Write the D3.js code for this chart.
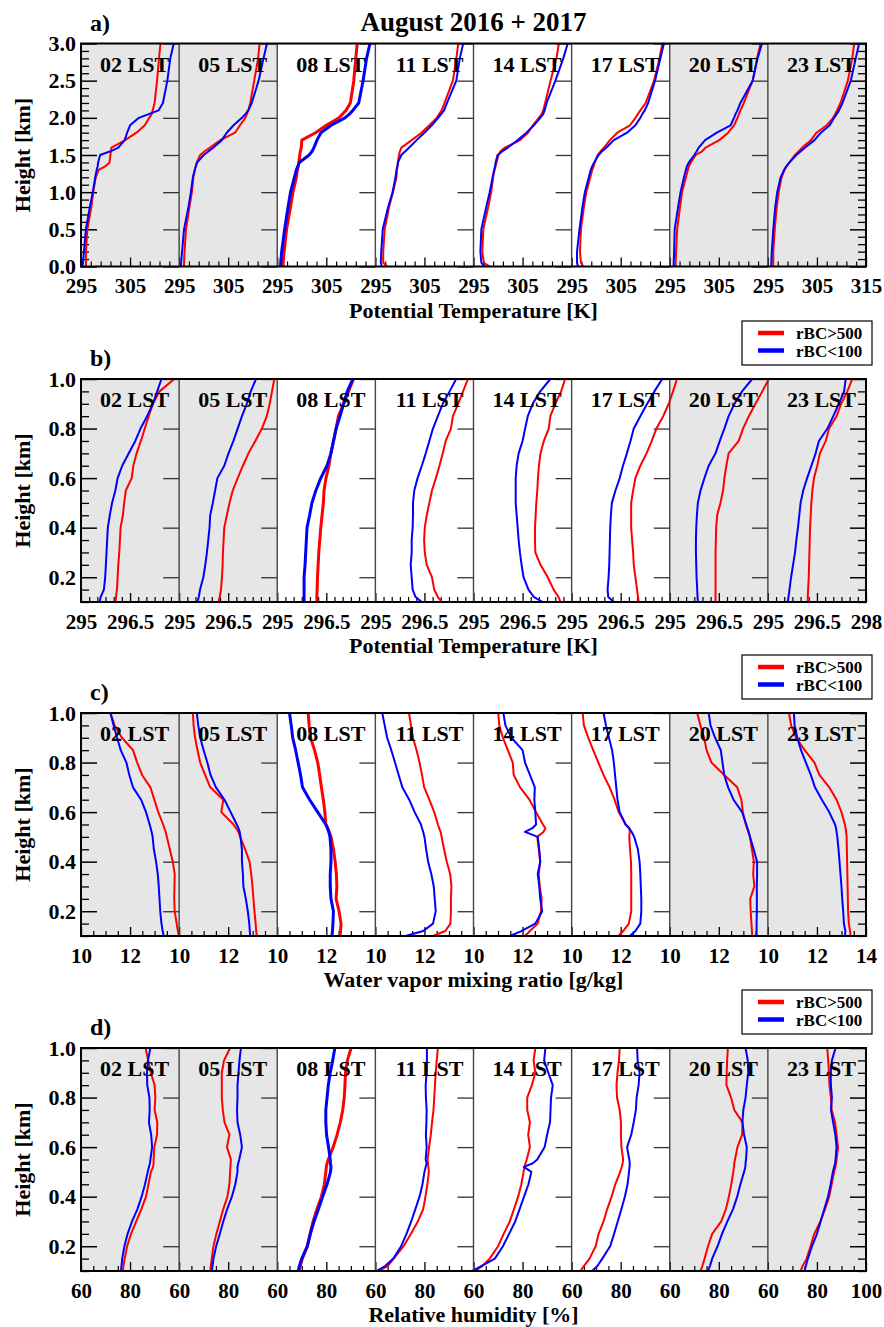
<!DOCTYPE html>
<html><head><meta charset="utf-8">
<script src="https://cdn.jsdelivr.net/npm/d3@7"></script>
<style>body{margin:0;background:#fff}svg{display:block}</style>
</head><body>
<svg id="chart" width="884" height="1327"></svg>
<script>
// ---------------- DATA ----------------
const panelLabels = ["02 LST","05 LST","08 LST","11 LST","14 LST","17 LST","20 LST","23 LST"];
const nightPanels = [0, 1, 6, 7];
const seriesNames = ["rBC>500", "rBC<100"];

// heights [km]
const heightsA = [0, 0.05, 0.2, 0.5, 0.8, 1.0, 1.2, 1.3, 1.35, 1.4, 1.5, 1.55, 1.6, 1.7, 1.8, 1.9, 2.0, 2.05, 2.1, 2.2, 2.5, 2.8, 3.0];
const heightsB = [0.1, 0.12, 0.15, 0.2, 0.25, 0.3, 0.35, 0.4, 0.45, 0.5, 0.55, 0.6, 0.65, 0.7, 0.75, 0.8, 0.85, 0.9, 0.95, 1.0];
const heightsCD = [0.1, 0.12, 0.15, 0.2, 0.25, 0.3, 0.35, 0.4, 0.45, 0.5, 0.52, 0.535, 0.55, 0.6, 0.65, 0.7, 0.75, 0.8, 0.85, 0.9, 0.95, 1.0];

// a) potential temperature 0-3 km [K]
const thetaA_high = [
 [296.0,296.0,296.0,296.3,297.1,297.5,298.0,298.6,300.0,300.8,301.0,301.1,301.2,304.0,306.3,308.0,308.9,309.4,309.6,310.0,310.5,310.9,311.2],
 [296.0,296.0,296.1,296.4,297.1,297.6,297.9,298.2,298.4,298.6,299.3,300.2,301.3,303.4,306.4,307.4,308.5,308.8,309.1,309.5,310.3,311.1,311.4],
 [296.2,296.2,296.4,296.9,297.7,298.2,298.9,299.1,299.3,299.4,299.6,299.7,299.9,300.0,302.8,305.0,307.6,308.3,309.0,309.9,310.6,311.0,311.3],
 [297.4,296.6,296.6,296.9,297.8,298.6,299.3,299.4,299.5,299.6,299.8,300.0,300.3,302.4,304.4,306.0,307.5,308.0,308.5,309.1,310.8,311.5,311.9],
 [298.3,297.1,296.8,297.0,298.0,298.6,299.0,299.3,299.5,299.7,300.1,300.5,301.4,304.5,306.1,307.1,308.3,308.9,309.2,309.6,310.7,311.9,312.4],
 [297.4,296.9,296.7,296.9,297.5,298.0,298.8,299.2,299.5,299.7,300.3,300.9,301.6,302.8,304.3,306.9,308.0,308.5,309.0,310.1,311.8,312.9,313.5],
 [296.2,296.2,296.3,296.5,297.1,297.5,298.3,298.7,298.9,299.3,300.3,301.6,302.3,305.1,306.9,308.1,308.8,309.1,309.4,310.1,311.9,312.8,313.5],
 [296.1,296.1,296.1,296.4,296.8,297.2,297.8,298.4,298.8,299.4,300.5,301.3,302.0,303.8,304.9,307.0,308.3,308.7,309.1,309.8,311.3,312.2,312.6]
];
const thetaA_low = [
 [295.3,295.4,295.6,296.0,296.8,297.4,297.9,298.2,298.4,298.5,298.9,301.0,302.6,303.9,304.4,305.0,306.8,308.8,310.8,311.7,312.6,313.2,313.9],
 [295.4,295.4,295.6,296.0,296.9,297.4,297.8,298.2,298.4,298.7,300.0,301.0,302.0,303.7,304.7,306.1,307.8,308.5,309.1,309.8,311.2,312.2,312.9],
 [295.7,295.7,295.9,296.5,297.2,297.7,298.5,298.9,299.2,299.5,301.5,302.1,302.5,303.1,303.9,306.0,308.8,309.7,310.4,311.6,312.5,313.2,313.9],
 [296.3,296.1,296.2,296.5,297.6,298.5,299.1,299.3,299.5,299.6,300.3,301.1,301.9,303.4,305.0,306.5,307.8,308.4,309.0,309.6,311.5,312.2,312.9],
 [297.3,296.6,296.4,296.6,297.6,298.3,298.9,299.2,299.4,299.5,299.9,300.9,302.0,304.0,305.8,307.3,308.6,309.2,309.5,309.9,311.7,313.3,314.2],
 [296.3,296.1,296.1,296.6,297.2,297.7,298.5,298.9,299.2,299.6,300.5,301.2,302.1,303.6,306.3,308.0,309.0,309.4,309.9,310.6,312.0,313.1,313.8],
 [295.8,295.8,295.9,296.0,296.7,297.2,297.9,298.3,298.5,298.9,300.0,300.5,300.9,302.2,304.6,307.4,308.1,308.4,308.8,309.4,311.9,312.9,313.8],
 [295.7,295.7,295.8,296.1,296.5,296.9,297.6,298.3,298.8,299.4,300.8,301.7,302.6,304.5,305.8,307.6,308.5,309.0,309.5,310.2,311.9,312.9,313.6]
];

// b) potential temperature 0.1-1 km [K]
const thetaB_high = [
 [296.05,296.07,296.10,296.12,296.14,296.17,296.19,296.21,296.28,296.32,296.37,296.55,296.60,296.70,296.83,296.95,297.07,297.20,297.40,297.85],
 [296.20,296.24,296.28,296.31,296.33,296.34,296.36,296.38,296.46,296.54,296.64,296.79,296.95,297.12,297.33,297.53,297.68,297.77,297.84,297.91],
 [296.21,296.21,296.22,296.23,296.25,296.27,296.30,296.33,296.37,296.41,296.43,296.49,296.58,296.64,296.72,296.80,296.87,297.03,297.18,297.33],
 [297.03,296.91,296.80,296.73,296.57,296.51,296.49,296.51,296.57,296.65,296.73,296.85,296.96,297.06,297.15,297.31,297.37,297.53,297.68,297.83],
 [297.66,297.60,297.45,297.27,297.05,296.89,296.88,296.88,296.90,296.92,296.95,296.97,297.00,297.05,297.15,297.30,297.35,297.50,297.68,297.80],
 [297.05,297.03,297.00,296.95,296.90,296.88,296.85,296.82,296.82,296.82,296.88,296.95,297.10,297.29,297.45,297.59,297.80,297.97,298.10,298.22],
 [296.40,296.40,296.40,296.40,296.40,296.40,296.41,296.42,296.45,296.55,296.63,296.67,296.73,296.80,297.11,297.24,297.42,297.62,297.83,298.03],
 [296.22,296.22,296.23,296.25,296.26,296.27,296.28,296.29,296.31,296.33,296.36,296.41,296.51,296.59,296.77,296.87,297.10,297.24,297.43,297.58]
];
const thetaB_low = [
 [295.57,295.60,295.70,295.74,295.76,295.78,295.80,295.82,295.88,295.95,296.05,296.12,296.26,296.46,296.66,296.82,297.02,297.20,297.33,297.46],
 [295.56,295.60,295.64,295.74,295.80,295.85,295.89,295.93,295.95,296.03,296.10,296.17,296.38,296.51,296.66,296.79,296.92,297.07,297.19,297.35],
 [295.82,295.82,295.82,295.82,295.85,295.87,295.89,295.91,295.99,296.06,296.18,296.33,296.52,296.64,296.72,296.80,296.92,297.03,297.14,297.31],
 [296.42,296.23,296.14,296.11,296.08,296.11,296.11,296.14,296.15,296.15,296.19,296.29,296.42,296.54,296.65,296.76,296.91,297.06,297.27,297.47],
 [297.12,296.85,296.68,296.53,296.47,296.42,296.38,296.35,296.32,296.29,296.29,296.29,296.32,296.38,296.50,296.58,296.66,296.81,297.04,297.35],
 [296.29,296.12,296.10,296.13,296.15,296.16,296.17,296.18,296.20,296.23,296.34,296.47,296.57,296.69,296.80,296.90,297.10,297.31,297.53,297.77],
 [295.86,295.85,295.84,295.82,295.81,295.80,295.80,295.81,295.83,295.86,295.94,296.06,296.19,296.40,296.53,296.67,296.80,296.98,297.21,297.52],
 [295.61,295.63,295.66,295.71,295.77,295.83,295.87,295.92,295.96,296.00,296.08,296.20,296.33,296.46,296.56,296.82,297.00,297.17,297.33,297.38]
];

// c) water vapor mixing ratio [g/kg]
const mixC_high = [
 [13.99,13.95,13.9,13.82,13.8,13.81,13.82,13.74,13.62,13.5,13.45,13.4,13.35,13.15,12.99,12.83,12.49,12.29,12.12,11.67,11.37,11.2],
 [13.17,13.14,13.12,13.07,13.03,12.99,12.94,12.87,12.69,12.49,12.42,12.32,12.22,11.72,11.8,11.27,11.06,10.86,10.75,10.65,10.59,10.56],
 [12.56,12.58,12.6,12.52,12.4,12.43,12.41,12.36,12.29,12.19,12.12,12.05,11.98,11.94,11.88,11.8,11.73,11.65,11.52,11.36,11.3,11.26],
 [12.35,12.85,13.06,13.08,13.08,13.1,13.05,12.91,12.8,12.7,12.66,12.6,12.55,12.4,12.2,11.99,11.9,11.8,11.68,11.53,11.45,11.37],
 [12.1,12.3,12.62,12.75,12.78,12.7,12.66,12.72,12.66,12.6,12.85,12.93,12.83,12.55,12.28,11.9,11.64,11.6,11.4,11.2,11.05,11.01],
 [11.91,12.1,12.33,12.43,12.43,12.43,12.43,12.42,12.38,12.35,12.37,12.35,12.2,11.92,11.75,11.55,11.3,11.09,10.88,10.68,10.5,10.45],
 [13.36,13.35,13.33,13.3,13.28,13.45,13.4,13.43,13.35,13.27,13.2,13.15,13.1,12.98,12.92,12.75,12.22,11.7,11.5,11.4,11.25,11.12],
 [13.37,13.35,13.3,13.27,13.26,13.25,13.24,13.23,13.22,13.21,13.19,13.17,13.14,13.0,12.8,12.5,12.1,11.9,11.5,11.15,10.95,10.86]
];
const mixC_low = [
 [13.37,13.33,13.28,13.23,13.2,13.17,13.13,13.06,12.97,12.92,12.88,12.84,12.8,12.65,12.45,12.12,11.97,11.85,11.62,11.47,11.33,11.2],
 [12.9,12.88,12.86,12.8,12.72,12.62,12.6,12.56,12.56,12.5,12.47,12.42,12.35,12.1,11.85,11.5,11.28,11.15,11.0,10.86,10.78,10.72],
 [12.23,12.25,12.27,12.29,12.19,12.16,12.16,12.19,12.19,12.15,12.1,12.05,11.98,11.65,11.32,11.03,10.95,10.85,10.75,10.63,10.57,10.5],
 [11.23,11.95,12.35,12.46,12.42,12.38,12.28,12.15,12.07,12.0,11.95,11.9,11.86,11.6,11.38,11.1,10.95,10.8,10.65,10.48,10.38,10.28],
 [11.49,11.95,12.52,12.8,12.72,12.68,12.62,12.72,12.68,12.62,12.1,12.4,12.55,12.52,12.48,12.5,12.3,12.1,12.0,11.55,11.3,11.22],
 [12.37,12.6,12.8,12.84,12.84,12.82,12.8,12.77,12.7,12.55,12.45,12.35,12.2,11.96,11.87,11.82,11.77,11.72,11.65,11.52,11.4,11.3],
 [13.54,13.54,13.54,13.55,13.55,13.55,13.56,13.56,13.42,13.27,13.22,13.17,13.12,12.95,12.6,12.38,12.22,12.15,12.08,11.85,11.66,11.59],
 [13.14,13.16,13.1,13.07,13.03,13.0,12.96,12.92,12.88,12.83,12.8,12.78,12.74,12.5,12.2,11.92,11.75,11.55,11.35,11.2,11.09,11.06]
];

// d) relative humidity [%]
const rhD_high = [
 [77.1,77.3,77.8,78.8,80.4,82.5,84.6,86.5,87.5,88.5,89.4,89.6,89.6,89.9,91.0,91.1,90.0,90.3,90.0,88.5,87.4,86.3],
 [72.7,72.9,73.3,74.0,75.2,76.6,78.0,79.7,80.5,80.8,80.9,81.0,81.1,79.5,80.5,78.5,77.8,77.4,77.4,77.4,78.3,80.8],
 [68.9,69.4,70.2,72.2,73.4,74.6,76.2,78.0,79.2,79.8,80.0,80.3,80.8,82.8,84.4,85.7,86.7,87.3,87.6,87.8,88.6,90.1],
 [61.4,65.0,67.5,71.5,74.5,77.3,79.5,80.4,81.2,81.8,81.6,81.4,81.3,81.9,82.6,83.1,83.7,84.0,84.3,84.6,85.0,85.5],
 [60.5,63.6,66.6,70.0,72.3,74.8,76.5,78.2,79.5,80.4,80.8,81.2,81.7,83.0,82.3,83.0,81.9,81.9,83.8,85.2,84.5,85.2],
 [63.5,65.0,67.3,69.8,71.0,73.0,74.5,76.3,77.8,79.8,80.4,80.8,81.0,80.3,80.1,80.1,79.6,78.5,78.3,78.7,79.3,79.6],
 [72.5,73.3,74.2,75.6,77.3,81.0,82.9,84.1,85.1,85.9,86.2,86.3,86.6,87.6,89.5,89.7,86.3,85.0,83.1,83.2,83.4,83.7],
 [73.3,74.2,75.8,77.4,78.9,81.4,83.3,85.0,86.0,87.0,87.5,87.8,88.0,88.6,88.0,87.4,86.0,85.7,85.1,84.9,84.6,84.2]
];
const rhD_low = [
 [76.3,76.5,76.8,77.7,79.0,80.8,83.0,84.7,86.1,87.2,87.7,88.1,88.3,89.0,88.6,87.7,88.0,87.9,87.0,86.9,87.3,88.3],
 [73.3,73.6,74.0,75.1,76.6,78.0,79.6,81.5,82.9,83.8,83.8,84.1,84.5,85.6,84.9,83.8,83.6,83.8,83.8,84.2,84.6,85.2],
 [68.5,69.0,70.0,72.3,73.5,75.0,76.8,78.5,80.3,81.7,81.9,81.7,81.6,80.9,80.1,79.8,79.8,80.3,80.8,81.6,82.6,83.5],
 [60.4,64.0,67.3,70.5,72.7,74.6,76.3,78.0,79.2,80.0,80.5,80.9,80.5,80.9,80.6,80.8,80.9,80.6,80.5,80.9,81.0,81.0],
 [59.5,63.2,68.7,72.0,74.5,77.0,78.8,80.6,82.4,83.6,80.5,84.2,86.0,89.0,90.0,91.2,91.4,91.6,92.3,90.5,88.8,89.3],
 [68.3,70.5,72.5,75.7,77.3,78.8,80.3,81.7,82.8,83.4,83.6,83.7,83.5,82.6,84.3,85.3,86.2,86.5,87.3,87.7,86.9,86.7],
 [75.5,76.4,77.3,79.5,81.3,83.5,85.8,87.5,88.8,90.3,90.8,90.9,91.1,91.4,90.3,89.6,90.0,90.9,91.4,92.0,91.8,90.9],
 [74.9,75.5,76.3,78.0,80.0,81.5,83.0,84.5,85.6,86.5,87.0,87.4,87.6,88.0,87.5,86.6,85.7,86.1,85.7,85.6,86.1,87.6]
];

// axis tick values
const xTicksA = [295, 305, 315], xTicksB = [295, 296.5, 298], xTicksC = [10, 12, 14], xTicksD = [60, 80, 100];
const yTicksA = [0, 0.5, 1.0, 1.5, 2.0, 2.5, 3.0];
const yTicksBCD = [0.2, 0.4, 0.6, 0.8, 1.0];

// ---------------- LAYOUT ----------------
const rows = [
  {letter:"a)", title:"Potential Temperature [K]", heights:heightsA, high:thetaA_high, low:thetaA_low,
   xTicks:xTicksA, xMinorStep:2, yDomain:[0,3], yTicks:yTicksA, yMinorStep:0.1, yFmt:d3.format(".1f"), legend:false},
  {letter:"b)", title:"Potential Temperature [K]", heights:heightsB, high:thetaB_high, low:thetaB_low,
   xTicks:xTicksB, xMinorStep:0.25, yDomain:[0.1,1], yTicks:yTicksBCD, yMinorStep:0.05, yFmt:d3.format(".1f"), legend:true},
  {letter:"c)", title:"Water vapor mixing ratio [g/kg]", heights:heightsCD, high:mixC_high, low:mixC_low,
   xTicks:xTicksC, xMinorStep:0.5, yDomain:[0.1,1], yTicks:yTicksBCD, yMinorStep:0.05, yFmt:d3.format(".1f"), legend:true},
  {letter:"d)", title:"Relative humidity [%]", heights:heightsCD, high:rhD_high, low:rhD_low,
   xTicks:xTicksD, xMinorStep:5, yDomain:[0.1,1], yTicks:yTicksBCD, yMinorStep:0.05, yFmt:d3.format(".1f"), legend:true}
];

const FONT = "'Liberation Serif','Times New Roman',Times,serif";
const L = 81, R = 866, PW = (R - L) / 8;
const rowTop = [43.5, 379, 713, 1048], RH = 223;
const RED = "#ff0000", BLUE = "#0000ff", GRAY = "#e6e6e6";

const svg = d3.select("#chart");
svg.append("rect").attr("width", 884).attr("height", 1327).attr("fill", "#fff");

svg.append("text").attr("x", (L + R) / 2).attr("y", 31).attr("text-anchor", "middle")
  .attr("font-family", FONT).attr("font-weight", "bold").attr("font-size", 27)
  .text("August 2016 + 2017");

function rangeStep(a, b, s) { const out = []; for (let v = a; v <= b + 1e-9; v += s) out.push(+v.toFixed(4)); return out; }

rows.forEach((row, ri) => {
  const top = rowTop[ri], bot = top + RH;
  const g = svg.append("g");
  const y = d3.scaleLinear().domain(row.yDomain).range([bot, top]);
  const xd = [row.xTicks[0], row.xTicks[2]];
  const xScales = panelLabels.map((_, pi) => d3.scaleLinear().domain(xd).range([L + pi * PW, L + (pi + 1) * PW]));

  // panel backgrounds
  panelLabels.forEach((_, pi) => {
    g.append("rect").attr("x", L + pi * PW).attr("y", top).attr("width", PW).attr("height", RH)
      .attr("fill", nightPanels.includes(pi) ? GRAY : "#fff");
  });

  const yMinor = rangeStep(row.yDomain[0], row.yDomain[1], row.yMinorStep).filter(v => !row.yTicks.some(t => Math.abs(t - v) < 1e-6));

  // x axes (bottom) per panel
  panelLabels.forEach((_, pi) => {
    const x = xScales[pi];
    const majors = pi === 7 ? row.xTicks : row.xTicks.slice(0, 2);
    const minors = rangeStep(xd[0], xd[1], row.xMinorStep).filter(v => !row.xTicks.some(t => Math.abs(t - v) < 1e-6));
    const ax = g.append("g").attr("transform", `translate(0,${bot})`)
      .call(d3.axisBottom(x).tickValues(majors).tickSize(-9).tickPadding(12).tickFormat(d => String(d)));
    ax.select(".domain").remove();
    ax.selectAll("line").attr("stroke", "#000").attr("stroke-width", 1.3);
    ax.selectAll("text").attr("font-family", FONT).attr("font-weight", "bold").attr("font-size", 21).attr("fill", "#000");
    const axm = g.append("g").attr("transform", `translate(0,${bot})`)
      .call(d3.axisBottom(x).tickValues(minors).tickSize(-5).tickFormat(""));
    axm.select(".domain").remove();
    axm.selectAll("line").attr("stroke", "#000").attr("stroke-width", 1.2);
  });

  // divider ticks (major only, pointing into the panel on the left)
  for (let k = 1; k < 8; k++) {
    const ax = g.append("g").attr("transform", `translate(${L + k * PW},0)`)
      .call(d3.axisLeft(y).tickValues(row.yTicks).tickSize(16).tickFormat(""));
    ax.select(".domain").remove();
    ax.selectAll("line").attr("stroke", "#333").attr("stroke-width", 1.3);
  }
  // right edge ticks
  {
    const ax = g.append("g").attr("transform", `translate(${R},0)`)
      .call(d3.axisLeft(y).tickValues(row.yTicks).tickSize(16).tickFormat(""));
    ax.select(".domain").remove();
    ax.selectAll("line").attr("stroke", "#000").attr("stroke-width", 1.5);
    const axm = g.append("g").attr("transform", `translate(${R},0)`)
      .call(d3.axisLeft(y).tickValues(yMinor).tickSize(8).tickFormat(""));
    axm.select(".domain").remove();
    axm.selectAll("line").attr("stroke", "#000").attr("stroke-width", 1.3);
  }
  // left axis
  {
    const ax = g.append("g").attr("transform", `translate(${L},0)`)
      .call(d3.axisLeft(y).tickValues(row.yTicks).tickSize(-16).tickPadding(5).tickFormat(row.yFmt));
    ax.select(".domain").remove();
    ax.selectAll("line").attr("stroke", "#000").attr("stroke-width", 1.5);
    ax.selectAll("text").attr("font-family", FONT).attr("font-weight", "bold").attr("font-size", 22).attr("fill", "#000");
    const axm = g.append("g").attr("transform", `translate(${L},0)`)
      .call(d3.axisLeft(y).tickValues(yMinor).tickSize(-8).tickFormat(""));
    axm.select(".domain").remove();
    axm.selectAll("line").attr("stroke", "#000").attr("stroke-width", 1.3);
  }

  // profile lines
  panelLabels.forEach((_, pi) => {
    const x = xScales[pi];
    const line = d3.line().x(d => x(d.v)).y(d => y(d.h));
    [[row.high[pi], RED], [row.low[pi], BLUE]].forEach(([vals, col]) => {
      g.append("path").datum(vals.map((v, i) => ({v, h: row.heights[i]})))
        .attr("d", line).attr("fill", "none").attr("stroke", col)
        .attr("stroke-width", pi === 2 ? 3 : 2).attr("stroke-linejoin", "round");
    });
  });

  // dividers
  for (let k = 1; k < 8; k++) {
    g.append("line").attr("x1", L + k * PW).attr("x2", L + k * PW).attr("y1", top).attr("y2", bot)
      .attr("stroke", "#444").attr("stroke-width", 1.4);
  }
  // frame
  g.append("rect").attr("x", L).attr("y", top).attr("width", R - L).attr("height", RH)
    .attr("fill", "none").attr("stroke", "#000").attr("stroke-width", 2);

  // panel labels
  panelLabels.forEach((lab, pi) => {
    g.append("text").attr("x", L + (pi + 1) * PW - 10).attr("y", top + 28).attr("text-anchor", "end")
      .attr("font-family", FONT).attr("font-weight", "bold").attr("font-size", 22).text(lab);
  });

  // row letter
  g.append("text").attr("x", 90).attr("y", top - 13).attr("font-family", FONT).attr("font-weight", "bold")
    .attr("font-size", 24).text(row.letter);

  // y title
  g.append("text").attr("transform", `translate(30,${(top + bot) / 2}) rotate(-90)`).attr("text-anchor", "middle")
    .attr("font-family", FONT).attr("font-weight", "bold").attr("font-size", 22).text("Height [km]");

  // x title
  g.append("text").attr("x", (L + R) / 2).attr("y", bot + 51).attr("text-anchor", "middle")
    .attr("font-family", FONT).attr("font-weight", "bold").attr("font-size", 22).text(row.title);

  // legend (above rows b, c, d)
  if (row.legend) {
    const lx = 742, ly = top - 58;
    const lg = svg.append("g");
    lg.append("rect").attr("x", lx).attr("y", ly).attr("width", 130).attr("height", 44)
      .attr("fill", "#fff").attr("stroke", "#000").attr("stroke-width", 1.2);
    [[RED, seriesNames[0], 12], [BLUE, seriesNames[1], 29.5]].forEach(([col, name, dy]) => {
      lg.append("line").attr("x1", lx + 16).attr("x2", lx + 42).attr("y1", ly + dy).attr("y2", ly + dy)
        .attr("stroke", col).attr("stroke-width", 4.5);
      lg.append("text").attr("x", lx + 54).attr("y", ly + dy + 6).attr("font-family", FONT)
        .attr("font-weight", "bold").attr("font-size", 17).text(name);
    });
  }
});
</script>
</body></html>
